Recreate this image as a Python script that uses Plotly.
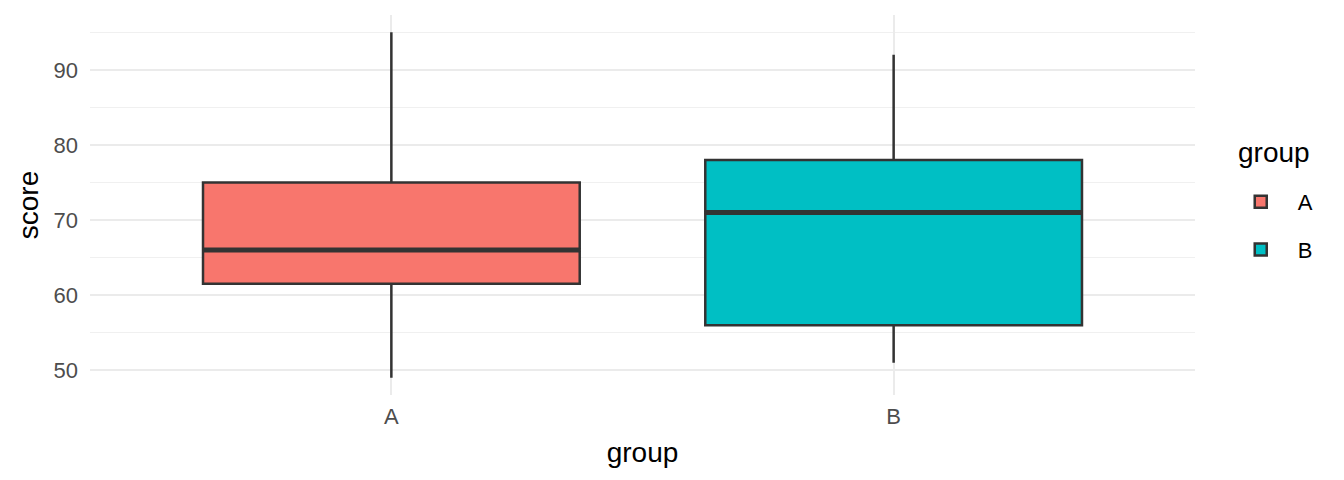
import plotly.graph_objects as go

groups = ["A", "B"]
colors = ["#F8766D", "#00BFC4"]
lower = [49, 51]
q1 = [61.5, 56]
median = [66, 71]
q3 = [75, 78]
upper = [95, 92]

box_width = 0.75
fig = go.Figure()
for i, g in enumerate(groups):
    fig.add_trace(go.Box(
        x=[i], q1=[q1[i]], median=[median[i]], q3=[q3[i]],
        lowerfence=[lower[i]], upperfence=[upper[i]],
        name=g, legendgroup=g, width=box_width, whiskerwidth=0,
        fillcolor=colors[i], line=dict(color="#333333", width=2.5),
        boxpoints=False, hoverinfo="skip",
    ))
for i, g in enumerate(groups):
    fig.add_trace(go.Scatter(
        x=[i - box_width / 2, i + box_width / 2], y=[median[i], median[i]],
        mode="lines", line=dict(color="#333333", width=5),
        showlegend=False, hoverinfo="skip",
    ))

font = "Liberation Sans, Arial, sans-serif"
fig.update_layout(
    width=1344, height=480,
    paper_bgcolor="white", plot_bgcolor="white",
    margin=dict(l=90, r=149, t=15, b=85),
    font=dict(family=font, color="black"),
    legend=dict(
        font=dict(size=22, color="black"),
        x=1.026, xanchor="left", y=0.563, yanchor="top",
        tracegroupgap=16, itemwidth=64,
        bgcolor="rgba(0,0,0,0)",
    ),
    annotations=[dict(
        text="group", xref="paper", yref="paper", x=1.0375, y=0.637,
        xanchor="left", yanchor="middle", showarrow=False,
        font=dict(size=28, color="black"),
    )],
    xaxis=dict(
        range=[-0.6, 1.6], tickmode="array", tickvals=[0, 1], ticktext=groups,
        showgrid=True, gridcolor="#EBEBEB", gridwidth=2, zeroline=False,
        showline=False, ticks="", automargin=False, ticklabelstandoff=6,
        tickfont=dict(size=22, color="#4D4D4D"),
        title=dict(text="group", font=dict(size=28, color="black"), standoff=14),
    ),
    yaxis=dict(
        range=[46.7, 97.3], tickmode="array", tickvals=[50, 60, 70, 80, 90],
        showgrid=True, gridcolor="#EBEBEB", gridwidth=2, zeroline=False,
        showline=False, ticks="", automargin=False, ticklabelstandoff=11,
        minor=dict(tickmode="array", tickvals=[55, 65, 75, 85, 95], showgrid=True,
                   gridcolor="#F0F0F0", gridwidth=1),
        tickfont=dict(size=22, color="#4D4D4D"),
        title=dict(text="score", font=dict(size=28, color="black"), standoff=6),
    ),
)
fig.write_html("out.html", config={"displayModeBar": False},
               post_script="document.body.style.margin='0';")
